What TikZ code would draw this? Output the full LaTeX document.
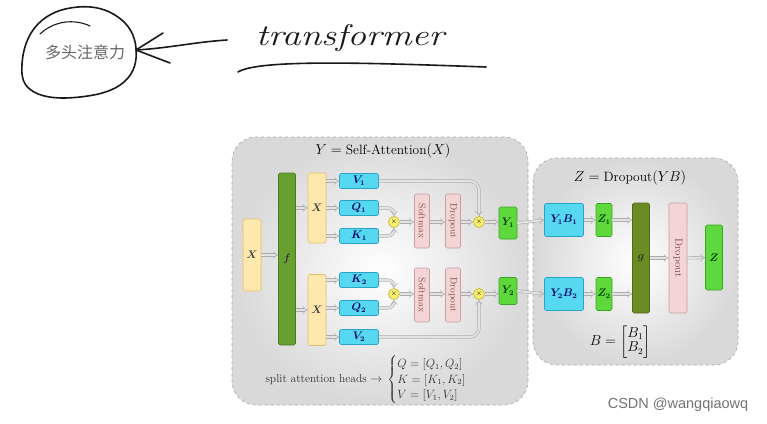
\documentclass[tikz,border=0pt]{standalone}
\usepackage{amsmath,amssymb,mathtools}
\usepackage{fontspec}
\usepackage{tikz}
\usetikzlibrary{arrows.meta}
\usetikzlibrary{calc}
\usepackage{xcolor}
\newfontfamily\cjk{Noto Sans CJK SC}
\newfontfamily\wmfont{Liberation Sans}

\definecolor{inyellow}{HTML}{FFE8AE}
\definecolor{inyellowd}{HTML}{E2BC6C}
\definecolor{fgreen}{HTML}{68A030}
\definecolor{fgreend}{HTML}{4C7A1E}
\definecolor{incyan}{HTML}{55D8F0}
\definecolor{incyand}{HTML}{2AA4C6}
\definecolor{inpink}{HTML}{F4D4D4}
\definecolor{inpinkd}{HTML}{C8A0A0}
\definecolor{ingreen}{HTML}{5ED83C}
\definecolor{ingreend}{HTML}{3AA424}
\definecolor{gol}{HTML}{6A8C22}
\definecolor{gold}{HTML}{4E6A16}
\definecolor{mulfill}{HTML}{F8EE70}
\definecolor{muldraw}{HTML}{C2B22C}

\tikzset{
  blk/.style={draw, rounded corners=1.5pt, inner sep=0pt, line width=0.6pt,
    font=\fontsize{10.5}{11}\selectfont\boldmath},
  ybox/.style={blk, fill=inyellow, draw=inyellowd, text=black!75},
  fbox/.style={blk, fill=fgreen, draw=fgreend, text=black!80},
  cbox/.style={blk, fill=incyan, draw=incyand, text=blue!40!black},
  pbox/.style={blk, fill=inpink, draw=inpinkd, text=red!30!black!70,
    font=\fontsize{9.5}{10}\selectfont},
  gbox/.style={blk, fill=ingreen, draw=ingreend, text=green!25!black},
  obox/.style={blk, fill=gol, draw=gold, text=black!80},
  mul/.style={circle, draw=muldraw, fill=mulfill, inner sep=0pt, minimum size=11pt,
    line width=0.6pt, font=\fontsize{7}{7}\selectfont},
  panel/.style={draw=gray!70, dashed, rounded corners=24pt, line width=0.6pt,
    inner color=white, outer color=gray!30},
  arr/.style={draw=gray!65, double=gray!22, double distance=2pt, line width=0.55pt,
    -{Implies}},
  lane/.style={arr, rounded corners=6pt},
  hand/.style={line width=1.6pt, line cap=round, line join=round, black!90},
}

\begin{document}
\begin{tikzpicture}[x=1pt,y=-1pt,>=Stealth]
		
		\useasboundingbox[fill=white] (0,0) rectangle (767,423);
		
		% Handwritten note
		\node[font=\cjk\fontsize{16}{16}\selectfont, text=black!60] (mha) at (85,52) {多头注意力};
		\draw[hand] plot[smooth cycle, tension=0.7] coordinates
			{(22,64) (38,24) (78,7) (118,17) (136,48) (124,82) (80,97) (34,92)};
		\draw[hand, line width=1.1pt] (40,34) .. controls (55,20) and (75,19) .. (90,26);
		\draw[hand] (227,40) .. controls (195,42) and (170,48) .. (136,50);
		\draw[hand] (163,33) -- (136,50) -- (170,63);
		\node[font=\itshape\fontsize{30}{30}\selectfont, text=black!90] (tfm) at (350,38)
			{\scalebox{1.25}[1]{transformer}};
		\draw[hand] (238,72) .. controls (258,60) and (350,62) .. (486,67);
		
		% Panels
		\node[panel, minimum width=296pt, minimum height=268pt] (selfatt) at (380,271) {};
		\node[panel, minimum width=205pt, minimum height=207pt] (outpart) at (635.5,261.5) {};
		\node[font=\fontsize{13.5}{14}\selectfont] (ttl1) at (383,151) {$Y = \text{Self-Attention}(X)$};
		\node[font=\fontsize{13.5}{14}\selectfont] (ttl2) at (630,178) {$Z = \text{Dropout}(YB)$};
		\node[font=\fontsize{13.5}{14}\selectfont] (bmat) at (620,342)
			{$B = \begin{bmatrix} B_1\\ B_2\end{bmatrix}$};
		
		% Self-attention blocks
		\node[ybox, minimum width=18pt, minimum height=72pt] (x0) at (252,255) {$X$};
		\node[fbox, minimum width=17pt, minimum height=172pt] (f) at (287,259) {$f$};
		\node[ybox, minimum width=18pt, minimum height=70pt] (x1) at (317,208) {$X$};
		\node[ybox, minimum width=18pt, minimum height=71pt] (x2) at (317,310) {$X$};
		\node[cbox, minimum width=39pt, minimum height=15pt] (v1) at (359,181) {$V_1$};
		\node[cbox, minimum width=39pt, minimum height=15pt] (q1) at (359,208) {$Q_1$};
		\node[cbox, minimum width=39pt, minimum height=15pt] (k1) at (359,236) {$K_1$};
		\node[cbox, minimum width=39pt, minimum height=15pt] (k2) at (359,280) {$K_2$};
		\node[cbox, minimum width=39pt, minimum height=15pt] (q2) at (359,308) {$Q_2$};
		\node[cbox, minimum width=39pt, minimum height=15pt] (v2) at (359,337) {$V_2$};
		\node[mul] (m1) at (394,222) {$\times$};
		\node[mul] (m2) at (394,294) {$\times$};
		\node[pbox, minimum width=15pt, minimum height=54pt] (sm1) at (422,221) {\rotatebox{-90}{Softmax}};
		\node[pbox, minimum width=15pt, minimum height=54pt] (do1) at (453,221) {\rotatebox{-90}{Dropout}};
		\node[pbox, minimum width=15pt, minimum height=54pt] (sm2) at (422,295) {\rotatebox{-90}{Softmax}};
		\node[pbox, minimum width=15pt, minimum height=54pt] (do2) at (453,295) {\rotatebox{-90}{Dropout}};
		\node[mul] (m3) at (479,222) {$\times$};
		\node[mul] (m4) at (479,294) {$\times$};
		\node[gbox, minimum width=18pt, minimum height=32pt] (y1) at (508,223) {$Y_1$};
		\node[gbox, minimum width=18pt, minimum height=27pt] (y2) at (508,291) {$Y_2$};
		
		% Output blocks
		\node[cbox, minimum width=39pt, minimum height=33pt] (yb1) at (564,220) {$Y_1B_1$};
		\node[gbox, minimum width=16pt, minimum height=33pt] (z1) at (604,220) {$Z_1$};
		\node[cbox, minimum width=39pt, minimum height=33pt] (yb2) at (564,294) {$Y_2B_2$};
		\node[gbox, minimum width=16pt, minimum height=33pt] (z2) at (604,294) {$Z_2$};
		\node[obox, minimum width=17pt, minimum height=110pt] (g) at (641,258) {$g$};
		\node[pbox, minimum width=18pt, minimum height=110pt, font=\fontsize{10.5}{11}\selectfont] (do3) at (678,258) {\rotatebox{-90}{Dropout}};
		\node[gbox, minimum width=17pt, minimum height=65pt] (z) at (714,257.5) {$Z$};
		
		% Split note
		\node[font=\fontsize{11.5}{13}\selectfont, text=black!80, anchor=east] (split) at (386,380)
			{split attention heads $\rightarrow$};
		\node[font=\fontsize{11.5}{13}\selectfont, text=black!80, anchor=west, inner xsep=1pt] (heads) at (split.east)
			{$\begin{cases} Q = [Q_1, Q_2]\\ K = [K_1, K_2]\\ V = [V_1, V_2]\end{cases}$};
		
		% Connectors
		\draw[arr] (x0) -- (x0 -| f.west);
		\draw[arr] (x1 -| f.east) -- (x1);
		\draw[arr] (x2 -| f.east) -- (x2);
		\foreach \t in {v1,q1,k1}
			\draw[arr] (\t -| x1.east) -- (\t);
		\foreach \t in {k2,q2,v2}
			\draw[arr] (\t -| x2.east) -- (\t);
		\draw[lane] (q1.east) -| (m1.north);
		\draw[lane] (k1.east) -| (m1.south);
		\draw[lane] (k2.east) -| (m2.north);
		\draw[lane] (q2.east) -| (m2.south);
		\draw[arr] (m1) -- (m1 -| sm1.west);
		\draw[arr] (m2) -- (m2 -| sm2.west);
		\draw[arr] (m1 -| sm1.east) -- (m1 -| do1.west);
		\draw[arr] (m2 -| sm2.east) -- (m2 -| do2.west);
		\draw[arr] (m1 -| do1.east) -- (m3);
		\draw[arr] (m2 -| do2.east) -- (m4);
		\draw[lane, rounded corners=9pt] (v1.east) -| (m3.north);
		\draw[lane, rounded corners=9pt] (v2.east) -| (m4.south);
		\draw[arr] (m3) -- (m3 -| y1.west);
		\draw[arr] (m4) -- (m4 -| y2.west);
		\draw[arr] (y1.east) -- (yb1.west);
		\draw[arr] (y2.east) -- (yb2.west);
		\draw[arr] (yb1) -- (z1);
		\draw[arr] (yb2) -- (z2);
		\draw[arr] (z1.east) -- (z1 -| g.west);
		\draw[arr] (z2.east) -- (z2 -| g.west);
		\draw[arr] (g) -- (do3);
		\draw[arr] (do3) -- (z);
		
		% Watermark
		\node[font=\wmfont\fontsize{14.5}{15}\selectfont, text=black!55] (mark) at (678,405) {CSDN @wangqiaowq};
		
	\end{tikzpicture}
\end{document}
